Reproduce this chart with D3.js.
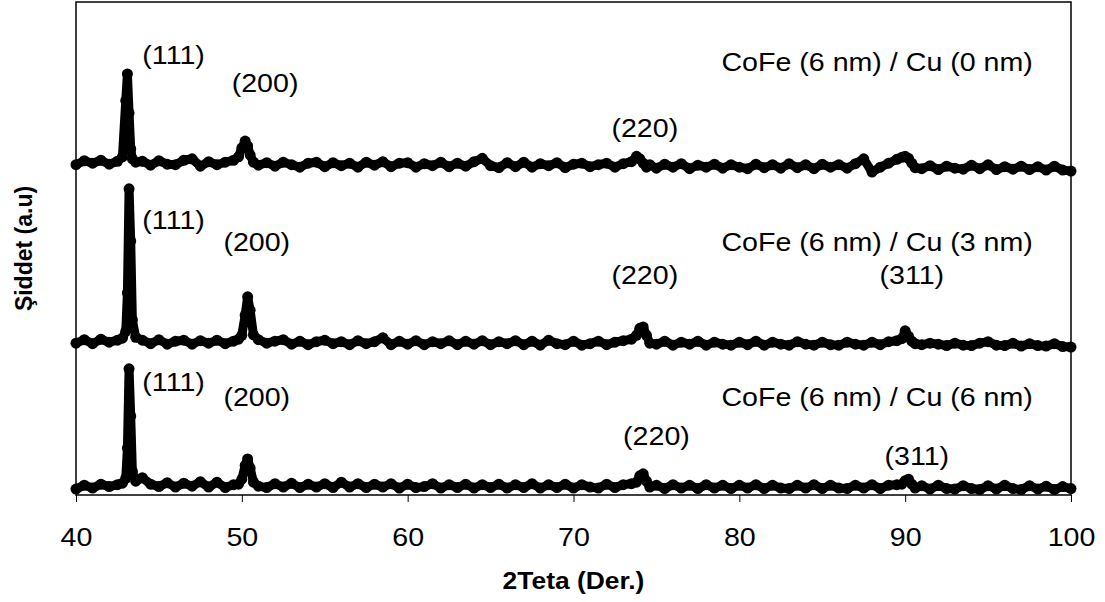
<!DOCTYPE html>
<html>
<head>
<meta charset="utf-8">
<script src="https://cdn.jsdelivr.net/npm/d3@7"></script>
<style>
  body { margin: 0; background: #fff; }
  svg { display: block; }
  text { font-family: "Liberation Sans", Arial, sans-serif; fill: #000; }
</style>
</head>
<body>
<svg id="chart" width="1105" height="602"></svg>
<script>
// 2Teta sample positions (degrees)
const twoTheta = [
  40, 40.5, 41, 41.5, 42, 42.5,
  42.8, 43.0, 43.1, 43.2, 43.3, 43.4, 43.6,
  44, 44.5, 45, 45.5, 46, 46.5, 47, 47.5, 48, 48.5, 49, 49.5,
  49.8, 50.0, 50.2, 50.35, 50.5, 50.7,
  51, 51.5, 52, 52.5, 53, 53.5, 54, 54.5, 55, 55.5,
  56, 56.5, 57, 57.5, 58, 58.5, 59, 59.5, 60, 60.5,
  61, 61.5, 62, 62.5, 63, 63.5, 64, 64.5, 65, 65.5,
  66, 66.5, 67, 67.5, 68, 68.5, 69, 69.5, 70, 70.5,
  71, 71.5, 72, 72.5, 73, 73.5,
  73.8, 74.0, 74.2, 74.4, 74.6,
  75, 75.5, 76, 76.5, 77, 77.5, 78, 78.5, 79, 79.5,
  80, 80.5, 81, 81.5, 82, 82.5, 83, 83.5, 84, 84.5,
  85, 85.5, 86, 86.5, 87, 87.5, 88, 88.5, 89, 89.5,
  89.8, 90.0, 90.2, 90.4, 90.6,
  91, 91.5, 92, 92.5, 93, 93.5, 94, 94.5, 95, 95.5,
  96, 96.5, 97, 97.5, 98, 98.5, 99, 99.5, 100
];

// intensities (a.u.), same order as twoTheta
const cu0 = [
  20, 28, 23, 29, 21, 27,
  36, 150, 204, 125, 52, 32, 25,
  27, 19, 28, 21, 20, 29, 32, 17, 26, 20, 25, 29,
  36, 54, 68, 58, 40, 25,
  19, 24, 17, 25, 20, 15, 23, 25, 16, 24,
  18, 23, 15, 25, 19, 26, 16, 23, 24, 15,
  22, 18, 25, 16, 23, 17, 26, 33, 18, 14,
  24, 16, 25, 15, 22, 18, 24, 14, 21, 23,
  16, 20, 23, 15, 22, 26,
  37, 32, 23, 15, 20,
  13, 21, 15, 22, 12, 19, 15, 21, 13, 20,
  15, 12, 21, 14, 20, 13, 22, 14, 20, 12,
  21, 15, 20, 13, 22, 32, 5, 15, 23, 31,
  35, 37, 33, 23, 14,
  12, 18, 10, 17, 13, 11, 19, 12, 20, 10,
  16, 11, 17, 10, 16, 9, 17, 9, 7
];

const cu3 = [
  8, 15, 7, 16, 10, 14,
  18, 32, 110, 321, 215, 55, 20,
  14, 7, 15, 6, 12, 14, 6, 13, 8, 14, 7, 12,
  16, 24, 65, 102, 75, 25,
  15, 8, 12, 15, 6, 12, 5, 11, 14, 7,
  11, 5, 13, 7, 11, 19, 5, 12, 6, 13,
  5, 11, 7, 13, 5, 12, 6, 13, 5, 11,
  7, 13, 5, 12, 4, 14, 7, 5, 12, 4,
  7, 12, 5, 10, 13, 16,
  24, 38, 41, 24, 8,
  6, 12, 4, 10, 6, 12, 4, 10, 6, 4,
  10, 5, 12, 4, 10, 6, 4, 11, 6, 4,
  10, 5, 4, 10, 6, 4, 10, 5, 11, 13,
  17, 33, 22, 12, 7,
  5, 8, 6, 3, 8, 4, 3, 8, 11, 4,
  3, 8, 2, 7, 3, 2, 7, 1, 0
];

const cu6 = [
  12, 20, 14, 22, 17, 21,
  24, 34, 95, 256, 160, 48, 28,
  35, 22, 17, 25, 16, 24, 18, 27, 16, 26, 15, 21,
  22, 32, 60, 73, 55, 26,
  18, 15, 23, 16, 24, 15, 22, 16, 23, 15,
  26, 16, 23, 15, 22, 16, 23, 14, 22, 15,
  17, 23, 14, 21, 15, 22, 14, 21, 15, 22,
  14, 21, 15, 23, 14, 21, 15, 22, 14, 21,
  16, 14, 22, 15, 21, 23,
  26, 39, 43, 28, 16,
  20, 13, 21, 14, 20, 13, 21, 14, 20, 13,
  20, 14, 21, 13, 20, 14, 13, 20, 14, 21,
  13, 20, 14, 13, 20, 14, 21, 13, 20, 21,
  22, 29, 32, 22, 14,
  19, 12, 20, 13, 12, 19, 13, 11, 19, 12,
  20, 13, 11, 19, 12, 18, 11, 17, 13
];

const seriesNames = ["CoFe (6 nm) / Cu (0 nm)", "CoFe (6 nm) / Cu (3 nm)", "CoFe (6 nm) / Cu (6 nm)"];
const seriesValues = [cu0, cu3, cu6];
const seriesOffsets = [650, 300, 0];

const xTicks = [40, 50, 60, 70, 80, 90, 100];

// peak labels: [text, 2Teta, intensity, anchor]
const peakLabels = [
  ["(111)", 44.0, 892, "start"], ["(200)", 51.4, 836, "middle"], ["(220)", 74.3, 744, "middle"],
  ["(111)", 44.0, 558, "start"], ["(200)", 50.9, 513, "middle"], ["(220)", 74.3, 446, "middle"], ["(311)", 90.4, 446, "middle"],
  ["(111)", 44.0, 229, "start"], ["(200)", 50.9, 199, "middle"], ["(220)", 75.0, 120, "middle"], ["(311)", 90.7, 79, "middle"]
];
const nameLabelY = [878, 513, 199];

const margin = { left: 76, right: 34, top: 2, bottom: 107 };
const width = 1105, height = 602;
const fontSize = 26;
const stretch = 1.1;

const svg = d3.select("#chart");

const x = d3.scaleLinear().domain([40, 100]).range([margin.left, width - margin.right]);
const y = d3.scaleLinear().domain([0, 1000]).range([height - margin.bottom, margin.top]);

// traces: thick line plus round markers at each point
const line = d3.line().x(d => x(d[0])).y(d => y(d[1]));

seriesValues.forEach(function(vals, i){
  let pts = twoTheta.map((t, j) => [t, vals[j] + seriesOffsets[i]]);
  svg.append("path")
     .datum(pts)
     .attr("d", line)
     .attr("fill", "none")
     .attr("stroke", "#000")
     .attr("stroke-width", 9)
     .attr("stroke-linejoin", "round")
     .attr("stroke-linecap", "round");
  svg.append("g").selectAll("circle")
     .data(pts)
     .enter()
     .append("circle")
     .attr("cx", d => x(d[0]))
     .attr("cy", d => y(d[1]))
     .attr("r", 5.5)
     .attr("fill", "#000");
});

// frame
svg.append("rect")
   .attr("x", margin.left)
   .attr("y", margin.top)
   .attr("width", width - margin.right - margin.left)
   .attr("height", height - margin.bottom - margin.top)
   .attr("fill", "none")
   .attr("stroke", "#000")
   .attr("stroke-width", 1.5);

// x axis
const xAxis = d3.axisBottom(x).tickValues(xTicks).tickSize(7).tickPadding(26).tickFormat(d3.format("d"));
const gx = svg.append("g")
   .attr("transform", `translate(0,${height - margin.bottom})`)
   .call(xAxis);
gx.select(".domain").remove();
gx.selectAll("line").attr("stroke", "#000").attr("stroke-width", 1);
gx.selectAll("text")
  .attr("font-size", fontSize)
  .attr("font-family", "Liberation Sans, Arial, sans-serif")
  .attr("fill", "#000")
  .attr("transform", `scale(${stretch},1)`);

// annotations
function addText(str, px, py, anchor){
  svg.append("text")
     .attr("transform", `translate(${px},${py}) scale(${stretch},1)`)
     .attr("text-anchor", anchor)
     .attr("dominant-baseline", "central")
     .attr("font-size", fontSize)
     .text(str);
}

peakLabels.forEach(d => addText(d[0], x(d[1]), y(d[2]), d[3]));
seriesNames.forEach((n, i) => addText(n, x(97.7), y(nameLabelY[i]), "end"));

// axis titles
svg.append("text")
   .attr("transform", `translate(${(margin.left + width - margin.right) / 2},580) scale(${stretch},1)`)
   .attr("text-anchor", "middle")
   .attr("dominant-baseline", "central")
   .attr("font-size", 24)
   .attr("font-weight", "bold")
   .text("2Teta (Der.)");

svg.append("text")
   .attr("transform", `translate(24,${(margin.top + height - margin.bottom) / 2}) rotate(-90)`)
   .attr("text-anchor", "middle")
   .attr("dominant-baseline", "central")
   .attr("font-size", 23)
   .attr("font-weight", "bold")
   .text("Şiddet (a.u)");
</script>
</body>
</html>
